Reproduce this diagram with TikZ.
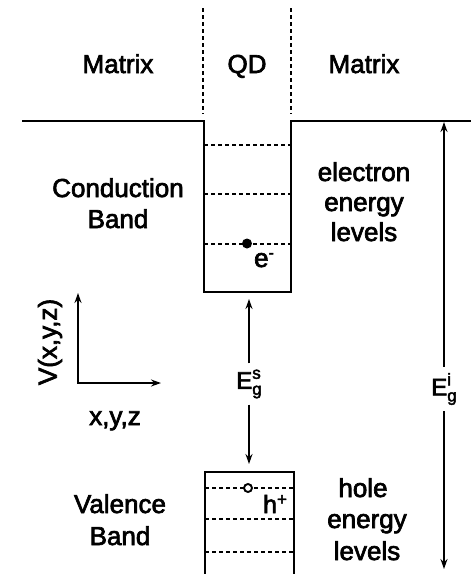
\documentclass[tikz,border=0pt]{standalone}
\usepackage{fontspec}
\setmainfont{Liberation Sans}[FakeBold=2.6]
\usetikzlibrary{arrows.meta}
\tikzset{
  txt/.style={font=\fontsize{26}{31}\selectfont, inner sep=0pt, anchor=base},
  wall/.style={line width=2.6pt, line join=miter},
  lvl/.style={line width=2pt, dash pattern=on 4.2pt off 2.8pt},
  sep/.style={line width=2.2pt, dash pattern=on 4.2pt off 2.8pt},
  arr/.style={line width=1.8pt, -{Stealth[length=10pt,width=7pt]}},
  gap/.style={inner xsep=0pt, inner ysep=6pt}
}
\newcommand{\EgLabel}[1]{{\fontsize{24}{24}\selectfont E}\makebox[0pt][l]{\raisebox{10pt}{\fontsize{17}{17}\selectfont #1}}\raisebox{-6pt}{\fontsize{17}{17}\selectfont g}}
\begin{document}
\begin{tikzpicture}[x=1pt,y=-1pt]
\useasboundingbox (0,0) rectangle (471,574);
% separators
\draw[sep] (203,8) -- (203,114);
\draw[sep] (291,8) -- (291,114);
% headings
\node[txt] (m1) at (118,73) {Matrix};
\node[txt] (qd) at (247,73) {QD};
\node[txt] (m2) at (364,73) {Matrix};
% conduction band well
\draw[wall] (22,121) -- (204,121) -- (204,292) -- (291,292) -- (291,121) -- (471,121);
\draw[lvl] (204,145) -- (291,145);
\draw[lvl] (204,194) -- (291,194);
\draw[lvl] (204,244) -- (291,244);
\fill (247,243.5) circle (5pt);
\node[txt] (em) at (264,267) {e\raisebox{9pt}{\fontsize{16}{16}\selectfont -}};
% valence band
\draw[wall] (205,580) -- (205,472) -- (294,472) -- (294,580);
\draw[lvl] (205,488) -- (294,488);
\draw[lvl] (205,519) -- (294,519);
\draw[lvl] (205,552) -- (294,552);
\draw[line width=1.9pt, fill=white] (248,488) circle (4pt);
\node[txt, font=\fontsize{25}{25}\selectfont] (hp) at (275,513) {h\raisebox{8pt}{\fontsize{17}{17}\selectfont +}};
% side labels
\node[txt] (cb1) at (118,197) {Conduction};
\node[txt] (cb2) at (118,228) {Band};
\node[txt] (el1) at (364,181) {electron};
\node[txt] (el2) at (364,211) {energy};
\node[txt] (el3) at (364,241) {levels};
\node[txt] (vb1) at (120,513) {Valence};
\node[txt] (vb2) at (120,545) {Band};
\node[txt] (hl1) at (363,497) {hole};
\node[txt] (hl2) at (367,528) {energy};
\node[txt] (hl3) at (367,560) {levels};
% band gaps
\node[gap] (egs) at (249,384) {\EgLabel{s}};
\coordinate (egsT) at (249,299);
\coordinate (egsB) at (249,464);
\draw[arr] (egs) -- (egsT);
\draw[arr] (egs) -- (egsB);
\node[gap] (egi) at (444,389) {\EgLabel{i}};
\coordinate (egiT) at (444,122);
\coordinate (egiB) at (444,569);
\draw[arr] (egi) -- (egiT);
\draw[arr] (egi) -- (egiB);
% axes
\coordinate (O) at (78,383);
\coordinate (yt) at (78,293);
\coordinate (xt) at (161,383);
\draw[line width=1.9pt, {Stealth[length=10pt,width=7pt]}-{Stealth[length=10pt,width=7pt]}] (yt) -- (O) -- (xt);
\node[font=\fontsize{26}{31}\selectfont, inner sep=0pt, rotate=90] (vxyz) at (50,342) {V(x,y,z)};
\node[txt] (xyz) at (115,425) {x,y,z};
\end{tikzpicture}
\end{document}
